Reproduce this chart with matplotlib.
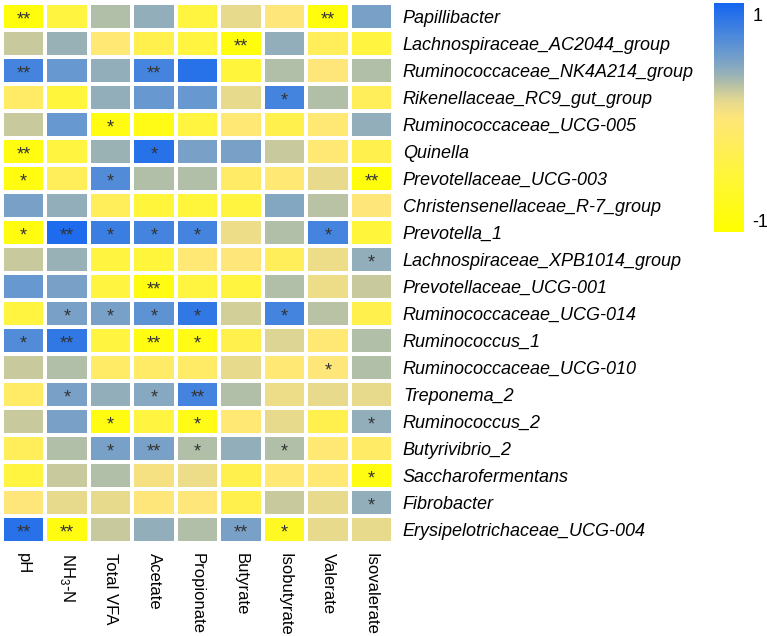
import numpy as np
import matplotlib
matplotlib.use("Agg")
import matplotlib.pyplot as plt
from matplotlib.colors import LinearSegmentedColormap

plt.rcParams['font.family'] = ['Liberation Sans', 'DejaVu Sans']
plt.rcParams['mathtext.fontset'] = 'custom'
plt.rcParams['mathtext.rm'] = 'Liberation Sans'

genera = ["Papillibacter", "Lachnospiraceae_AC2044_group", "Ruminococcaceae_NK4A214_group",
          "Rikenellaceae_RC9_gut_group", "Ruminococcaceae_UCG-005", "Quinella",
          "Prevotellaceae_UCG-003", "Christensenellaceae_R-7_group", "Prevotella_1",
          "Lachnospiraceae_XPB1014_group", "Prevotellaceae_UCG-001", "Ruminococcaceae_UCG-014",
          "Ruminococcus_1", "Ruminococcaceae_UCG-010", "Treponema_2", "Ruminococcus_2",
          "Butyrivibrio_2", "Saccharofermentans", "Fibrobacter", "Erysipelotrichaceae_UCG-004"]
params = ["pH", r"NH$_3$-N", "Total VFA", "Acetate", "Propionate", "Butyrate",
          "Isobutyrate", "Valerate", "Isovalerate"]

# correlation values, one row per genus
corr = [
    [-0.9, -0.45, 0.3, 0.4, -0.45, 0.13, 0.0, -0.9, 0.5],
    [0.23, 0.38, -0.05, -0.35, -0.45, -0.9, 0.4, -0.25, -0.45],
    [0.75, 0.58, 0.4, 0.75, 0.9, -0.5, 0.3, 0.0, 0.3],
    [-0.15, -0.5, 0.4, 0.58, 0.58, 0.13, 0.75, 0.3, -0.25],
    [0.23, 0.58, -0.85, -0.8, -0.45, -0.05, -0.35, -0.05, 0.4],
    [-0.85, -0.45, 0.37, 0.9, 0.5, 0.5, 0.23, -0.05, -0.35],
    [-0.85, -0.25, 0.68, 0.3, 0.3, -0.15, -0.05, 0.13, -0.9],
    [0.5, 0.4, -0.25, -0.5, -0.5, -0.45, 0.46, 0.28, 0.0],
    [-0.85, 0.95, 0.8, 0.75, 0.75, 0.1, 0.3, 0.75, -0.5],
    [0.23, 0.38, -0.45, -0.5, -0.05, 0.0, -0.25, 0.1, 0.4],
    [0.58, 0.5, -0.45, -0.85, -0.45, -0.45, 0.3, 0.1, 0.23],
    [-0.45, 0.5, 0.5, 0.63, 0.85, 0.2, 0.75, 0.28, -0.35],
    [0.68, 0.85, -0.45, -0.85, -0.8, -0.35, 0.17, -0.05, 0.3],
    [0.23, 0.3, -0.15, -0.15, -0.15, 0.13, -0.05, 0.0, 0.3],
    [-0.15, 0.5, 0.4, 0.45, 0.75, 0.3, 0.1, 0.13, 0.13],
    [0.23, 0.5, -0.85, -0.45, -0.8, -0.05, 0.13, -0.35, 0.4],
    [-0.25, 0.3, 0.5, 0.5, 0.3, 0.4, 0.3, -0.05, -0.15],
    [-0.45, 0.23, 0.3, 0.05, 0.1, -0.35, -0.05, -0.05, -0.85],
    [0.0, 0.13, 0.13, 0.0, 0.0, -0.35, 0.23, 0.13, 0.4],
    [0.9, -0.85, 0.23, 0.4, 0.3, 0.5, -0.7, 0.13, 0.13],
]

signif = [
    ["**", "", "", "", "", "", "", "**", ""],
    ["", "", "", "", "", "**", "", "", ""],
    ["**", "", "", "**", "", "", "", "", ""],
    ["", "", "", "", "", "", "*", "", ""],
    ["", "", "*", "", "", "", "", "", ""],
    ["**", "", "", "*", "", "", "", "", ""],
    ["*", "", "*", "", "", "", "", "", "**"],
    ["", "", "", "", "", "", "", "", ""],
    ["*", "**", "*", "*", "*", "", "", "*", ""],
    ["", "", "", "", "", "", "", "", "*"],
    ["", "", "", "**", "", "", "", "", ""],
    ["", "*", "*", "*", "*", "", "*", "", ""],
    ["*", "**", "", "**", "*", "", "", "", ""],
    ["", "", "", "", "", "", "", "*", ""],
    ["", "*", "", "*", "**", "", "", "", ""],
    ["", "", "*", "", "*", "", "", "", "*"],
    ["", "", "*", "**", "*", "", "*", "", ""],
    ["", "", "", "", "", "", "", "", "*"],
    ["", "", "", "", "", "", "", "", "*"],
    ["**", "**", "", "", "", "**", "*", "", ""],
]

cmap = LinearSegmentedColormap.from_list("yb", [
    (0.0, "#FFFF00"), (0.25, "#FFF53A"), (0.5, "#FFE67A"), (0.575, "#E3D890"),
    (0.65, "#B2BEA8"), (0.7, "#92AEBA"), (0.775, "#6E9CCC"), (0.875, "#4585DE"),
    (1.0, "#1565F0")])

fig = plt.figure(figsize=(7.67, 6.36), dpi=100)
ax = fig.add_axes([0.0026, 0.146, 0.510, 0.849])
data = np.array(corr)
mesh = ax.pcolormesh(data, cmap=cmap, vmin=-1, vmax=1, edgecolors="white", linewidth=1.5)
ax.set_xlim(0, len(params))
ax.set_ylim(len(genera), 0)
for i in range(len(genera)):
    for j in range(len(params)):
        if signif[i][j]:
            ax.text(j + 0.5, i + 0.62, signif[i][j], ha="center", va="center",
                    fontsize=13, color="#333333")

ax.yaxis.tick_right()
ax.set_yticks(np.arange(len(genera)) + 0.5)
ax.set_yticklabels(genera, fontsize=13, style="italic")
ax.set_xticks(np.arange(len(params)) + 0.5)
ax.set_xticklabels(params, rotation=270, fontsize=12, va="top")
ax.tick_params(length=0, pad=7)
ax.tick_params(axis="x", pad=7)
for s in ax.spines.values():
    s.set_visible(False)

cax = fig.add_axes([0.931, 0.635, 0.039, 0.36])
cb = fig.colorbar(mesh, cax=cax)
cb.outline.set_visible(False)
cb.set_ticks([-0.9, 0.9])
cb.set_ticklabels(["-1", "1"])
cb.ax.tick_params(length=0, labelsize=13, pad=6)

fig.savefig("out.png", dpi=100)
